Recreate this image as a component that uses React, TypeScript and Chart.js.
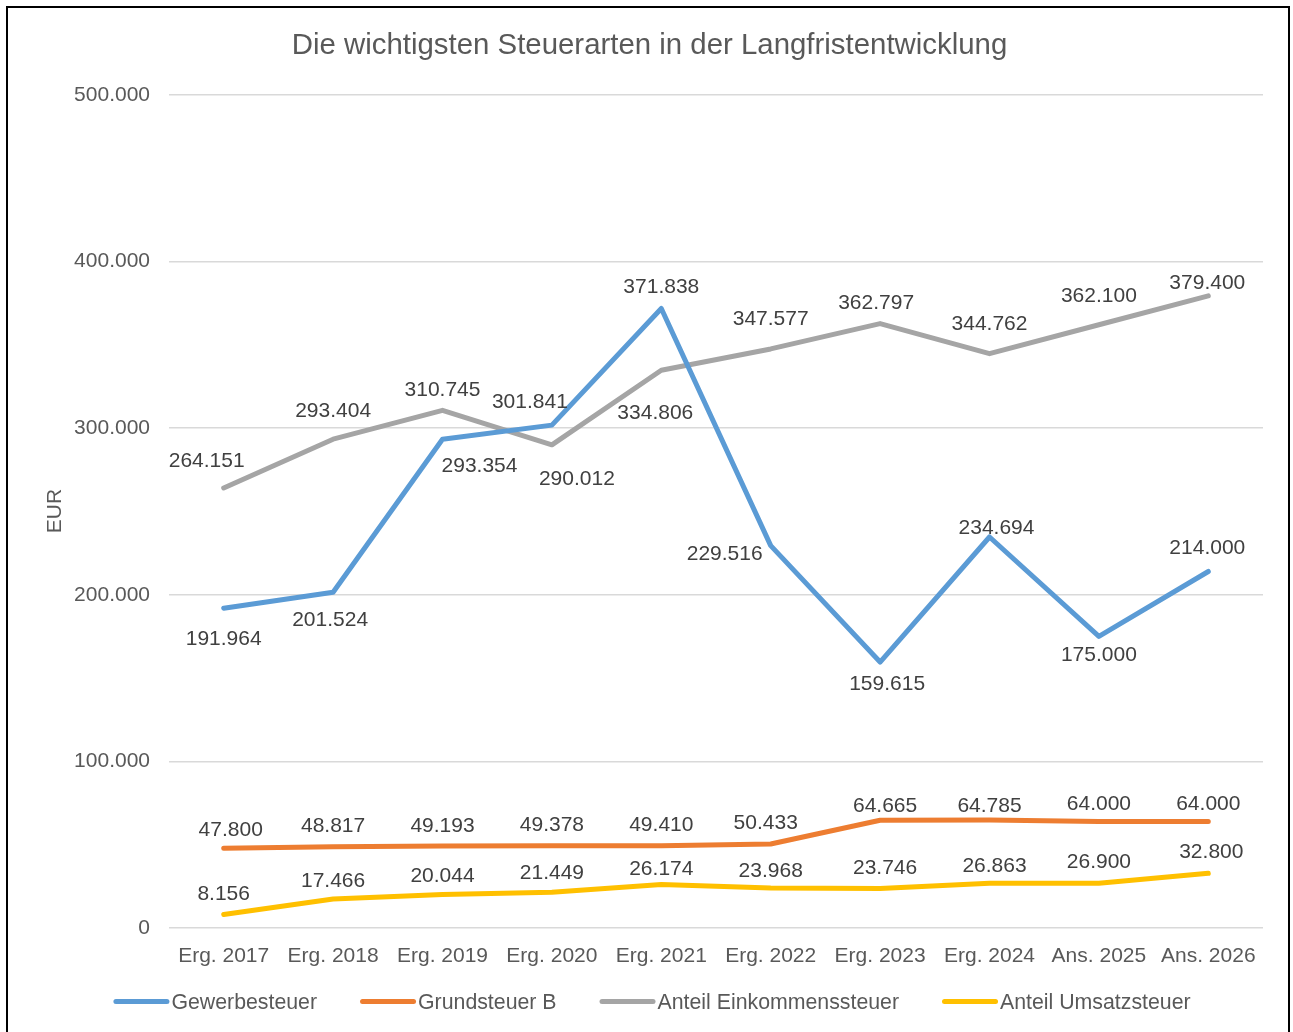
import React, { useEffect, useRef } from 'react';
import { Chart, registerables } from 'chart.js';

Chart.register(...registerables);

// ---------- data ----------
const categories = [
  'Erg. 2017', 'Erg. 2018', 'Erg. 2019', 'Erg. 2020', 'Erg. 2021',
  'Erg. 2022', 'Erg. 2023', 'Erg. 2024', 'Ans. 2025', 'Ans. 2026',
];
const gewerbesteuer = [191964, 201524, 293354, 301841, 371838, 229516, 159615, 234694, 175000, 214000];
const grundsteuerB = [47800, 48817, 49193, 49378, 49410, 50433, 64665, 64785, 64000, 64000];
const einkommensteuer = [264151, 293404, 310745, 290012, 334806, 347577, 362797, 344762, 362100, 379400];
const umsatzsteuer = [8156, 17466, 20044, 21449, 26174, 23968, 23746, 26863, 26900, 32800];
const seriesNames = ['Gewerbesteuer', 'Grundsteuer B', 'Anteil Einkommenssteuer', 'Anteil Umsatzsteuer'];
const yTickValues = [0, 100000, 200000, 300000, 400000, 500000];
const chartTitle = 'Die wichtigsten Steuerarten in der Langfristentwicklung';
const yAxisTitle = 'EUR';

// ---------- label placement (pixel offsets from the point) ----------
const gewerbeLabelOffsets = [[0, 29], [-3, 26], [37, 25], [-22, -25], [0, -23], [-46, 7], [7, 20], [7, -11], [0, 17], [-1, -25]];
const grundLabelOffsets = [[7, -20], [0, -22], [0, -22], [0, -22], [0, -22], [-5, -22], [5, -16], [0, -16], [0, -19], [0, -19]];
const einkommenLabelOffsets = [[-17, -28], [0, -30], [0, -22], [25, 33], [-6, 41], [0, -31], [-4, -22], [0, -31], [0, -30], [-1, -14]];
const umsatzLabelOffsets = [[0, -22], [0, -19], [0, -20], [0, -21], [0, -17], [0, -19], [5, -22], [5, -19], [0, -23], [3, -23]];

// ---------- styles ----------
const COLORS = ['#5B9BD5', '#ED7D31', '#A5A5A5', '#FFC000'];
const FONT = "'Liberation Sans', Arial, sans-serif";
const AXIS_TEXT = '#595959';
const LABEL_TEXT = '#404040';
const FS = 21;

const fmt = (v: number) => Math.round(v).toString().replace(/\B(?=(\d{3})+(?!\d))/g, '.');

const decorPlugin = {
  id: 'decor',
  afterDatasetsDraw(chart: any) {
    const ctx = chart.ctx as CanvasRenderingContext2D;
    const offsets = [gewerbeLabelOffsets, grundLabelOffsets, einkommenLabelOffsets, umsatzLabelOffsets];
    ctx.save();
    ctx.font = `${FS}px ${FONT}`;
    ctx.fillStyle = LABEL_TEXT;
    ctx.textAlign = 'center';
    ctx.textBaseline = 'alphabetic';
    chart.data.datasets.forEach((ds: any, i: number) => {
      const meta = chart.getDatasetMeta(i);
      meta.data.forEach((el: any, j: number) => {
        const off = offsets[i][j];
        ctx.fillText(fmt(ds.data[j]), el.x + off[0], el.y + off[1] + FS * 0.358);
      });
    });
    ctx.restore();
  },
  afterDraw(chart: any) {
    const ctx = chart.ctx as CanvasRenderingContext2D;
    ctx.save();
    // title
    ctx.font = `29.4px ${FONT}`;
    ctx.fillStyle = AXIS_TEXT;
    ctx.textAlign = 'center';
    ctx.textBaseline = 'alphabetic';
    ctx.fillText(chartTitle, 649.5, 54);

    // y axis title
    ctx.save();
    ctx.font = `${FS}px ${FONT}`;
    ctx.translate(61, 511);
    ctx.rotate(-Math.PI / 2);
    ctx.fillText(yAxisTitle, 0, 0);
    ctx.restore();

    // legend
    ctx.font = `21.3px ${FONT}`;
    ctx.textAlign = 'left';
    const lineLen = 56;
    const gapText = 2;
    const gapItem = 43;
    const widths = chart.data.datasets.map((ds: any) => lineLen + gapText + ctx.measureText(ds.label).width);
    const total = widths.reduce((a: number, b: number) => a + b, 0) + gapItem * (widths.length - 1);
    let x = 652 - total / 2;
    const ly = 1001.5;
    chart.data.datasets.forEach((ds: any, i: number) => {
      ctx.strokeStyle = ds.borderColor;
      ctx.lineWidth = 5;
      ctx.lineCap = 'round';
      ctx.beginPath();
      ctx.moveTo(x + 2.5, ly);
      ctx.lineTo(x + lineLen - 2.5, ly);
      ctx.stroke();
      ctx.fillStyle = AXIS_TEXT;
      ctx.fillText(ds.label, x + lineLen + gapText, 1009);
      x += widths[i] + gapItem;
    });
    ctx.restore();
  },
};

export default function App() {
  const ref = useRef<HTMLCanvasElement>(null);

  useEffect(() => {
    if (!ref.current) return;
    const seriesData = [gewerbesteuer, grundsteuerB, einkommensteuer, umsatzsteuer];
    const chart = new Chart(ref.current, {
      type: 'line',
      data: {
        labels: categories,
        datasets: seriesData.map((d, i) => ({
          label: seriesNames[i],
          data: d,
          borderColor: COLORS[i],
          backgroundColor: COLORS[i],
          borderWidth: 5,
          borderCapStyle: 'round' as const,
          borderJoinStyle: 'round' as const,
          pointRadius: 0,
          pointHoverRadius: 0,
          tension: 0,
          fill: false,
        })),
      },
      options: {
        responsive: false,
        animation: false,
        devicePixelRatio: 1,
        layout: { padding: { left: 0, top: 95, right: 30, bottom: 0 } },
        plugins: {
          legend: { display: false },
          title: { display: false },
          tooltip: { enabled: false },
        },
        scales: {
          x: {
            type: 'category',
            offset: true,
            grid: { display: false, drawTicks: false },
            border: { display: false },
            ticks: {
              color: AXIS_TEXT,
              font: { family: FONT, size: FS },
              padding: 16,
              autoSkip: false,
              maxRotation: 0,
              minRotation: 0,
            },
            afterFit: (scale: any) => { scale.height = 104; },
          },
          y: {
            type: 'linear',
            min: yTickValues[0],
            max: yTickValues[yTickValues.length - 1],
            afterBuildTicks: (scale: any) => { scale.ticks = yTickValues.map((v) => ({ value: v })); },
            grid: { color: '#d9d9d9', lineWidth: 1.5, drawTicks: false },
            border: { display: false },
            ticks: {
              color: AXIS_TEXT,
              font: { family: FONT, size: FS },
              padding: 19,
              callback: (v: any) => fmt(Number(v)),
            },
            afterFit: (scale: any) => { scale.width = 169; },
          },
        },
      },
      plugins: [decorPlugin],
    });
    return () => chart.destroy();
  }, []);

  return (
    <div style={{ position: 'absolute', left: 0, top: 0, width: 1293, height: 1032, overflow: 'hidden', background: '#fff' }}>
      <div
        style={{
          position: 'absolute',
          left: 6,
          top: 6,
          width: 1284,
          height: 1026,
          borderLeft: '2px solid #000',
          borderTop: '2px solid #000',
          borderRight: '2px solid #000',
          boxSizing: 'border-box',
        }}
      />
      <canvas ref={ref} width={1293} height={1032} style={{ position: 'absolute', left: 0, top: 0, width: 1293, height: 1032 }} />
    </div>
  );
}
